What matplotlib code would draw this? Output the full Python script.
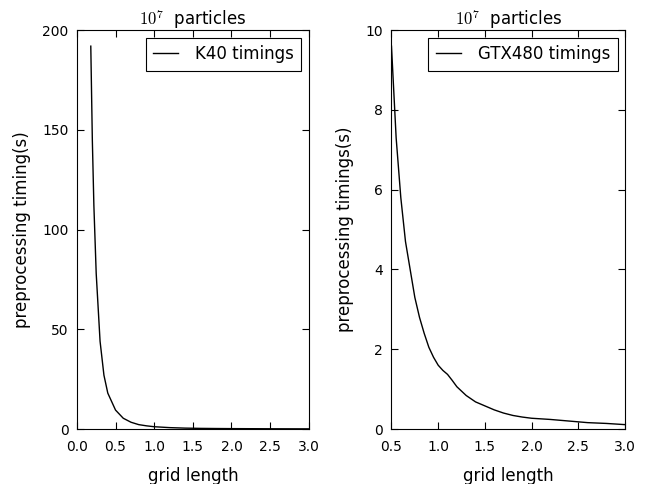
import matplotlib
matplotlib.use("Agg")
import matplotlib.pyplot as plt

# K40 preprocessing timings vs grid length
k40_grid = [0.18, 0.2, 0.22, 0.25, 0.3, 0.35, 0.4, 0.5, 0.6, 0.7, 0.8, 0.9,
            1.0, 1.2, 1.4, 1.6, 1.8, 2.0, 2.5, 3.0]
k40_time = [192, 145, 112, 78, 44, 27, 18, 9.5, 5.4, 3.4, 2.2, 1.6,
            1.15, 0.7, 0.45, 0.32, 0.25, 0.2, 0.12, 0.08]

# GTX480 preprocessing timings vs grid length
gtx_grid = [0.5, 0.55, 0.6, 0.65, 0.7, 0.75, 0.8, 0.85, 0.9, 0.95, 1.0, 1.05,
            1.1, 1.15, 1.2, 1.3, 1.4, 1.5, 1.6, 1.7, 1.8, 1.9, 2.0, 2.2,
            2.4, 2.6, 2.8, 3.0]
gtx_time = [9.6, 7.3, 5.8, 4.7, 4.0, 3.3, 2.8, 2.4, 2.05, 1.8, 1.6, 1.47,
            1.37, 1.22, 1.06, 0.84, 0.68, 0.58, 0.48, 0.4, 0.34, 0.3, 0.27, 0.24,
            0.2, 0.16, 0.14, 0.11]

k40_xticks = [0.0, 0.5, 1.0, 1.5, 2.0, 2.5, 3.0]
gtx_xticks = [0.5, 1.0, 1.5, 2.0, 2.5, 3.0]

plt.rcParams["mathtext.fontset"] = "cm"

fig = plt.figure(figsize=(6.46, 4.84), dpi=100)
ax1 = fig.add_axes([0.119, 0.1136, 0.359, 0.824])
ax2 = fig.add_axes([0.606, 0.1136, 0.3615, 0.824])

panels = [
    (ax1, k40_grid, k40_time, "K40 timings", "preprocessing timing(s)",
     (0, 3), (0, 200), k40_xticks, [0, 50, 100, 150, 200]),
    (ax2, gtx_grid, gtx_time, "GTX480 timings", "preprocessing timings(s)",
     (0.5, 3), (0, 10), gtx_xticks, [0, 2, 4, 6, 8, 10]),
]
for ax, x, y, lab, ylab, xl, yl, xt, yt in panels:
    ax.plot(x, y, color="black", lw=1, label=lab)
    ax.set_xlim(*xl)
    ax.set_ylim(*yl)
    ax.set_xticks(xt)
    ax.set_xticklabels([f"{v:.1f}" for v in xt])
    ax.set_yticks(yt)
    ax.tick_params(direction="in", top=True, right=True, length=5, labelsize=10)
    ax.tick_params(axis="x", pad=8)
    ax.tick_params(axis="y", pad=6)
    ax.set_xlabel("grid length", fontsize=12, labelpad=9)
    ax.set_ylabel(ylab, fontsize=12, labelpad=8)
    ax.set_title(r"$10^7$  particles", fontsize=12, pad=4)
    leg = ax.legend(loc="upper right", fancybox=False, fontsize=12, handlelength=1.5,
                    handletextpad=1.0, borderpad=0.45, borderaxespad=0.45,
                    edgecolor="black", framealpha=1)
    leg.get_frame().set_linewidth(0.8)

fig.savefig("out.png", dpi=100)
